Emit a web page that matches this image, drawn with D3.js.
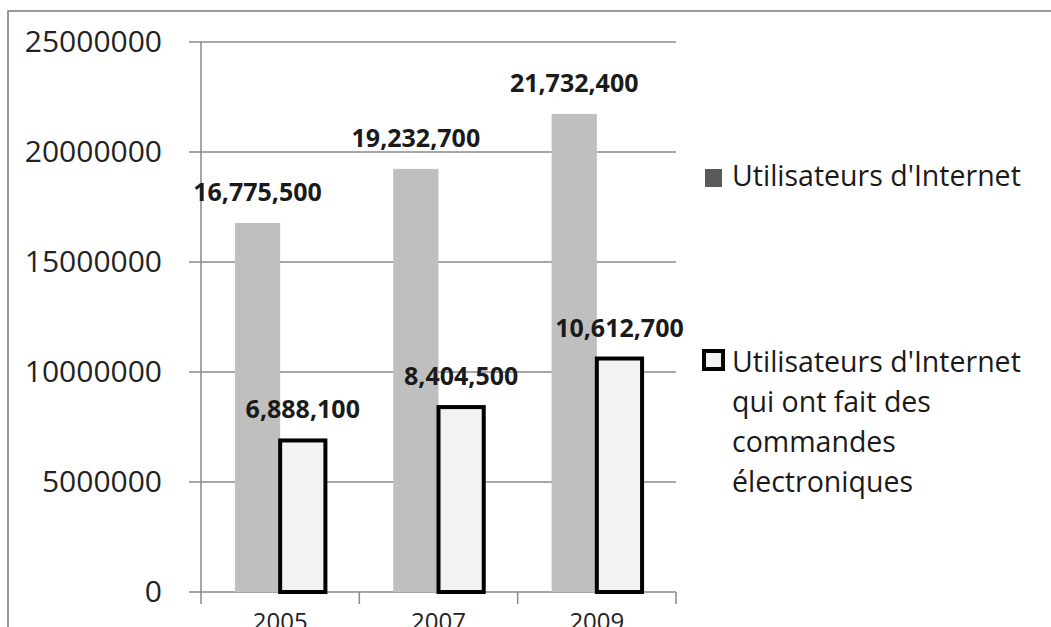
<!DOCTYPE html>
<html>
<head>
<meta charset="utf-8">
<script src="https://cdn.jsdelivr.net/npm/d3@7"></script>
<style>
  html, body { margin: 0; padding: 0; background: #fff; }
  svg { display: block; font-family: "Open Sans", "Noto Sans", sans-serif; }
</style>
</head>
<body>
<svg id="chart" width="1051" height="627"></svg>
<script>
// ---- data ----
const years = ["2005", "2007", "2009"];
const seriesNames = ["Utilisateurs d'Internet", "Utilisateurs d'Internet qui ont fait des commandes électroniques"];
const internetUsers = [16775500, 19232700, 21732400];
const ecommerceUsers = [6888100, 8404500, 10612700];
const yTicks = [0, 5000000, 10000000, 15000000, 20000000, 25000000];
const legendLines2 = ["Utilisateurs d'Internet", "qui ont fait des", "commandes", "électroniques"];

// ---- layout ----
const svg = d3.select("#chart");
const plot = { left: 201, right: 676, top: 42, bottom: 592 };

// outer frame
svg.append("rect")
  .attr("x", 8).attr("y", 11).attr("width", 1100).attr("height", 700)
  .attr("fill", "none").attr("stroke", "#7a7a7a").attr("stroke-width", 1.5);

const y = d3.scaleLinear().domain([0, 25000000]).range([plot.bottom, plot.top]);
const x0 = d3.scaleBand().domain(years).range([plot.left, plot.right]).padding(0);
const x1 = d3.scaleBand().domain([0, 1]).range([0, x0.bandwidth()]).paddingInner(0).paddingOuter(0.75);

// gridlines
svg.append("g").selectAll("line").data(yTicks).join("line")
  .attr("x1", plot.left - 12).attr("x2", plot.right)
  .attr("y1", d => y(d)).attr("y2", d => y(d))
  .attr("stroke", "#8a8a8a").attr("stroke-width", 1.5);

// vertical axis line
svg.append("line")
  .attr("x1", plot.left).attr("x2", plot.left)
  .attr("y1", plot.top).attr("y2", plot.bottom)
  .attr("stroke", "#8a8a8a").attr("stroke-width", 1.5);

// y-axis labels
const yAxis = svg.append("g")
  .attr("transform", `translate(${plot.left},0)`)
  .call(d3.axisLeft(y).tickValues(yTicks).tickFormat(d3.format("d")).tickSize(0).tickPadding(39));
yAxis.select(".domain").remove();
yAxis.selectAll("text")
  .attr("font-size", 30).attr("fill", "#222")
  .attr("font-family", "'Open Sans', sans-serif");

// x-axis tick marks at band boundaries
const bounds = years.map(d => x0(d)).concat([x0(years[years.length - 1]) + x0.bandwidth()]);
svg.append("g").selectAll("line").data(bounds).join("line")
  .attr("x1", d => d).attr("x2", d => d)
  .attr("y1", plot.bottom).attr("y2", plot.bottom + 12)
  .attr("stroke", "#8a8a8a").attr("stroke-width", 1.5);

// x labels (cut off by the bottom edge, as in the reference)
const xAxis = svg.append("g")
  .attr("transform", `translate(0,${plot.bottom})`)
  .call(d3.axisBottom(x0).tickSize(0).tickPadding(21));
xAxis.select(".domain").remove();
xAxis.selectAll("text")
  .attr("font-size", 24).attr("fill", "#222")
  .attr("font-family", "'Open Sans', sans-serif");

// bars
const g1 = svg.append("g");
g1.selectAll("rect").data(internetUsers).join("rect")
  .attr("x", (d, i) => x0(years[i]) + x1(0))
  .attr("width", x1.bandwidth())
  .attr("y", d => y(d))
  .attr("height", d => y(0) - y(d))
  .attr("fill", "#bfbfbf");

const g2 = svg.append("g");
g2.selectAll("rect").data(ecommerceUsers).join("rect")
  .attr("x", (d, i) => x0(years[i]) + x1(1))
  .attr("width", x1.bandwidth())
  .attr("y", d => y(d))
  .attr("height", d => y(0) - y(d))
  .attr("fill", "#f2f2f2")
  .attr("stroke", "#000").attr("stroke-width", 4);

// data labels
const fmt = d3.format(",");
function addLabels(values, idx) {
  svg.append("g").selectAll("text").data(values).join("text")
    .attr("x", (d, i) => x0(years[i]) + x1(idx) + x1.bandwidth() / 2)
    .attr("y", d => y(d) - 22)
    .attr("text-anchor", "middle")
    .attr("font-size", 25).attr("font-weight", "bold").attr("fill", "#1a1a1a")
    .text(d => fmt(d));
}
addLabels(internetUsers, 0);
addLabels(ecommerceUsers, 1);

// legend
const leg = svg.append("g");
leg.append("rect").attr("x", 705).attr("y", 169).attr("width", 17).attr("height", 18)
  .attr("fill", "#595959");
leg.append("text").attr("x", 732).attr("y", 186)
  .attr("font-size", 28.5).attr("fill", "#1a1a1a").text(seriesNames[0]);

leg.append("rect").attr("x", 704).attr("y", 351).attr("width", 19).attr("height", 18)
  .attr("fill", "#f2f2f2").attr("stroke", "#000").attr("stroke-width", 4);
leg.append("g").selectAll("text").data(legendLines2).join("text")
  .attr("x", 732).attr("y", (d, i) => 372 + i * 40)
  .attr("font-size", 28.5).attr("fill", "#1a1a1a").text(d => d);
</script>
</body>
</html>
